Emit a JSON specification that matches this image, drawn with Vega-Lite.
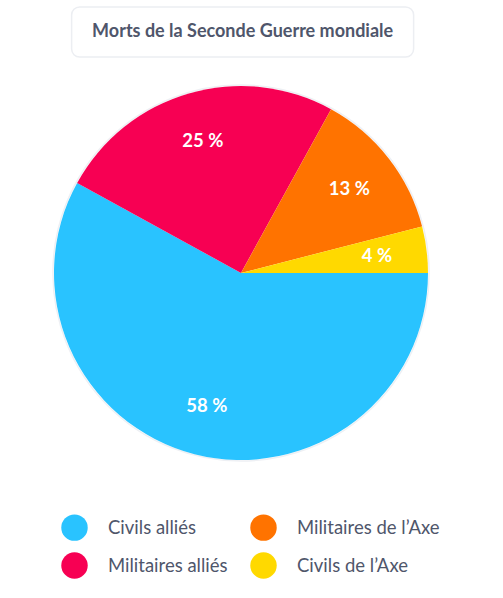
{
  "$schema": "https://vega.github.io/schema/vega-lite/v6.json",
  "background": "white",
  "padding": {"left": 50, "top": 6, "right": 0, "bottom": 0},
  "config": {"view": {"stroke": null}, "font": "Lato"},
  "spacing": 24,
  "center": true,
  "vconcat": [
    {
      "width": 342,
      "height": 50,
      "view": {"stroke": "#eceef2", "strokeWidth": 1.5, "cornerRadius": 8},
      "data": {"values": [{"t": "Morts de la Seconde Guerre mondiale"}]},
      "mark": {"type": "text", "fontWeight": "bold", "fontSize": 18, "color": "#4f566b", "font": "Lato"},
      "encoding": {"text": {"field": "t"}}
    },
    {
      "width": 374,
      "height": 374,
      "data": {"values": [
        {"category": "Civils alliés", "value": 58, "label": "58 %"},
        {"category": "Militaires alliés", "value": 25, "label": "25 %"},
        {"category": "Militaires de l’Axe", "value": 13, "label": "13 %"},
        {"category": "Civils de l’Axe", "value": 4, "label": "4 %"}
      ]},
      "encoding": {
        "theta": {"field": "value", "type": "quantitative", "stack": true, "scale": {"range": [1.5708, 7.854]}},
        "order": {"field": "value", "type": "quantitative", "sort": "descending"},
        "color": {
          "field": "category",
          "type": "nominal",
          "scale": {
            "domain": ["Civils alliés", "Militaires alliés", "Militaires de l’Axe", "Civils de l’Axe"],
            "range": ["#29c3ff", "#f70053", "#ff7300", "#ffd900"]
          },
          "legend": {
            "title": null,
            "orient": "none",
            "legendX": 7,
            "legendY": 507,
            "columns": 2,
            "padding": 0,
            "symbolType": "circle",
            "symbolSize": 700,
            "symbolStrokeWidth": 0,
            "labelFontSize": 18.5,
            "labelColor": "#4f566b",
            "labelFont": "Lato",
            "labelOffset": 20,
            "labelLimit": 300,
            "columnPadding": 22,
            "rowPadding": 11
          }
        }
      },
      "layer": [
        {
          "data": {"values": [{"ring": 1}]},
          "mark": {"type": "arc", "theta": 0, "theta2": 6.2832, "radius": 188, "fill": null, "stroke": "#eef0f4", "strokeWidth": 1.5},
          "encoding": {"color": {"value": null}, "theta": {"value": 0}, "order": {"value": 0}}
        },
        {
          "mark": {"type": "arc", "outerRadius": 187}
        },
        {
          "mark": {"type": "text", "radius": 137, "fontSize": 18.5, "fontWeight": "bold", "font": "Lato", "color": "white"},
          "encoding": {"text": {"field": "label"}, "color": {"value": "white"}}
        }
      ]
    }
  ]
}
